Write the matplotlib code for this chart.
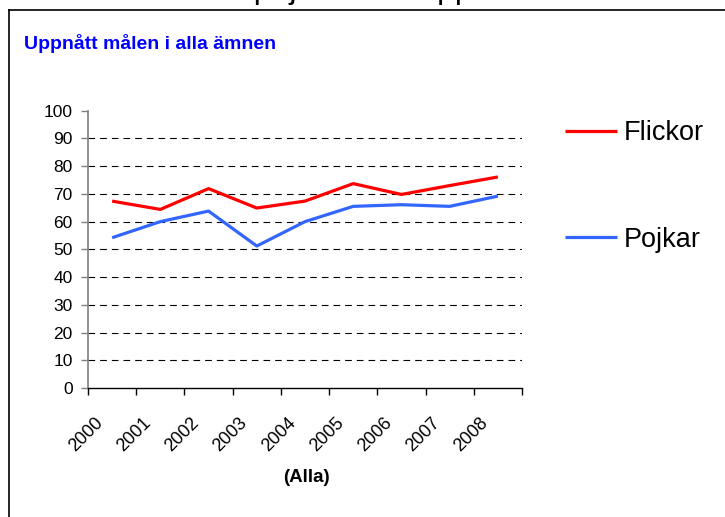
import matplotlib.pyplot as plt
from matplotlib.lines import Line2D
from matplotlib.transforms import ScaledTranslation

plt.rcParams["font.family"] = ["Liberation Sans", "DejaVu Sans"]

years = ["2000", "2001", "2002", "2003", "2004", "2005", "2006", "2007", "2008"]
flickor = [67.4, 64.4, 71.9, 64.9, 67.4, 73.7, 69.8, 73.0, 76.1]
pojkar = [54.2, 60.0, 63.8, 51.2, 60.0, 65.5, 66.1, 65.5, 69.2]
yticks = list(range(0, 101, 10))

W, H = 725, 517
fig = plt.figure(figsize=(W / 100, H / 100), dpi=100)
ax = fig.add_axes([88 / W, 1 - 388 / H, (522 - 88) / W, (388 - 110.7) / H])

x = list(range(len(years)))
ax.plot(x, flickor, color="#ff0000", lw=2.3, label="Flickor", solid_capstyle="butt")
ax.plot(x, pojkar, color="#3366ff", lw=2.3, label="Pojkar", solid_capstyle="butt")

ax.set_xlim(-0.5, len(years) - 0.5)
ax.set_ylim(0, 100)
ax.set_yticks(yticks)
ax.tick_params(axis="y", labelsize=12.5, length=5, width=1, color="#808080", pad=6)
for v in yticks[1:-1]:
    ax.axhline(v, color="black", lw=0.8, dashes=(6, 4.5), zorder=0)

# category ticks sit between the years
ax.set_xticks([i - 0.5 for i in range(len(years) + 1)])
ax.set_xticklabels([])
ax.set_xticks(x, minor=True)
ax.set_xticklabels(years, minor=True, rotation=45, ha="right", va="top",
                   rotation_mode="anchor", fontsize=13)
ax.tick_params(axis="x", which="major", length=5, width=1, color="black")
ax.tick_params(axis="x", which="minor", length=0, pad=19)
shift = ScaledTranslation(-18 / 100, 0, fig.dpi_scale_trans)
for lab in ax.get_xticklabels(minor=True):
    lab.set_transform(lab.get_transform() + shift)

for s in ["top", "right"]:
    ax.spines[s].set_visible(False)
ax.spines["left"].set_color("#808080")
ax.spines["left"].set_linewidth(1.2)
ax.spines["bottom"].set_color("black")
ax.spines["bottom"].set_linewidth(1)

fig.text(306 / W, 1 - 478 / H, "(Alla)", ha="center", va="center",
         fontsize=13.5, fontweight="bold")
fig.text(24 / W, 1 - 43.5 / H, "Uppnått målen i alla ämnen", ha="left",
         va="center", fontsize=14, fontweight="bold", color="#0000ff")

# heading above the frame, only its lowest part falls inside the canvas
fig.text(90 / W, 1 + 2 / H, "Flickor och pojkar som uppnått målen", ha="left",
         va="baseline", fontsize=23)

# frame around the chart area
fig.add_artist(Line2D([9 / W, 9 / W], [1 - 10 / H, -0.1], color="black", lw=1.2,
                      transform=fig.transFigure))
fig.add_artist(Line2D([9 / W, 1.1], [1 - 10 / H, 1 - 10 / H], color="black", lw=1.2,
                      transform=fig.transFigure))

fig.legend(loc="upper left", bbox_to_anchor=(565 / W, 1 - 120.5 / H), frameon=False,
           fontsize=19.5, handlelength=1.92, handletextpad=0.25, labelspacing=2.97,
           borderpad=0, borderaxespad=0)

fig.savefig("out.png", dpi=100)
